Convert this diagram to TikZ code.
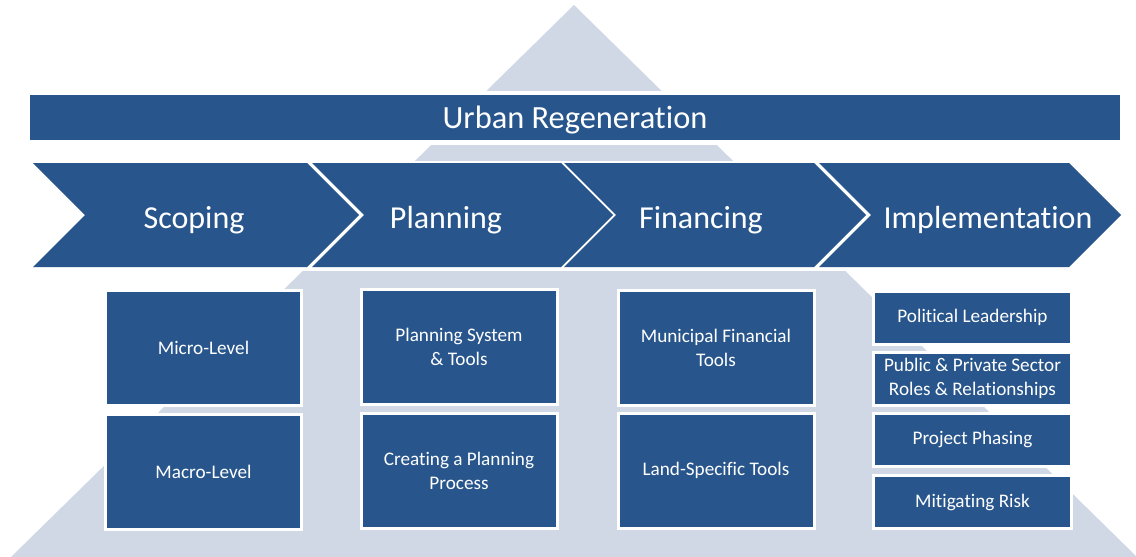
\documentclass[tikz,border=0pt]{standalone}
\usepackage{fontspec}
\setmainfont{Carlito}[Ligatures=NoCommon]
\usetikzlibrary{positioning}
\definecolor{sotetkek}{RGB}{40,86,140}
\definecolor{halvany}{RGB}{208,216,230}
\newcommand{\nyil}[2]{
\fill[sotetkek] (#1,\felso) -- (#2,\felso) -- (#2+\hegy,\kozep) -- (#2,\also) -- (#1,\also) -- (#1+\hegy,\kozep) -- cycle;
}

\begin{document}
\begin{tikzpicture}[x=0.5pt,y=-0.5pt,
  doboz/.style={fill=sotetkek, draw=white, line width=1.5pt, text=white, inner sep=0,
    minimum width=98pt, minimum height=57.5pt, align=center,
    font=\fontsize{9.6}{12}\selectfont},
  kisdoboz/.style={doboz, minimum width=99pt, minimum height=26.5pt},
  fazis/.style={text=white, anchor=base, font=\fontsize{16}{18}\selectfont}]
\pgfmathsetmacro{\felso}{163}
\pgfmathsetmacro{\also}{267}
\pgfmathsetmacro{\kozep}{215}
\pgfmathsetmacro{\hegy}{52}

\useasboundingbox (0,0) rectangle (1136,557);

% piramis a hatterben
\fill[halvany] (574,5) -- (1137,557) -- (11,557) -- cycle;
\fill[white] (0,90.5) rectangle (1136,144.5);
\fill[white] (0,160.5) rectangle (1136,270.5);

\node[fill=sotetkek, minimum width=545pt, minimum height=22.5pt, inner sep=0](cim) at (575,117.5){};
\node[text=white, anchor=base, font=\fontsize{16.2}{18}\selectfont] (cimszoveg) at (575,128){Urban Regeneration};

\nyil{33}{307}
\nyil{312}{561}
\nyil{564}{814}
\nyil{819}{1069}

\node[fazis] (scoping) at (194,228){Scoping};
\node[fazis] (planning) at (446,228){Planning};
\node[fazis] (financing) at (701,228){Financing};
\node[fazis] (implementation) at (988,228){Implementation};

\node[doboz] (micro) at (203.5,348){Micro-Level};
\node[doboz] (macro) at (203.5,471.5){Macro-Level};
\node[doboz] (rendszer) at (459,347){Planning System\\ \& Tools};
\node[doboz] (folyamat) at (459,470.5){Creating a Planning\\ Process};
\node[doboz] (municipal) at (716,347.5){Municipal Financial\\ Tools};
\node[doboz] (land) at (716,470.5){Land-Specific Tools};

\node[kisdoboz] (political) at (972.5,317.5){Political Leadership};
\node[kisdoboz] (public) at (972.5,378.5){Public \& Private Sector\\ Roles \& Relationships};
\node[kisdoboz] (phasing) at (972.5,439.5){Project Phasing};
\node[kisdoboz] (risk) at (972.5,502){Mitigating Risk};
%\node[fazis] at (575,40){};

\end{tikzpicture}
\end{document}
